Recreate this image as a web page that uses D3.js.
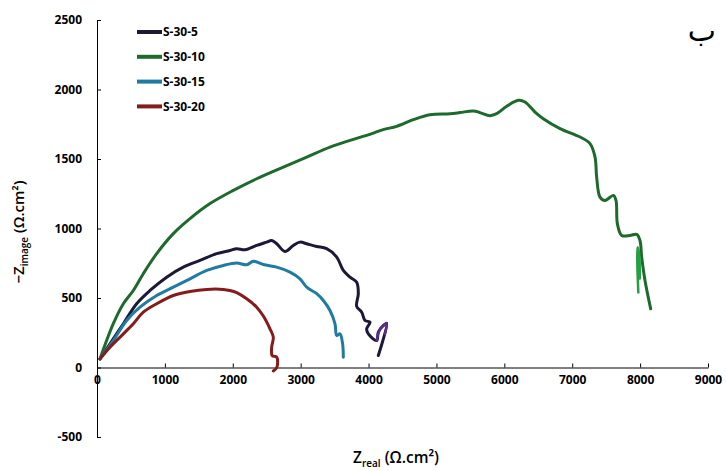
<!DOCTYPE html>
<html>
<head>
<meta charset="utf-8">
<script src="https://cdn.jsdelivr.net/npm/d3@7"></script>
<style>
  body { margin: 0; background: #fff; }
  svg { display: block; }
  .tick text { font-family: "Open Sans", sans-serif; font-weight: 700; font-size: 12px; fill: #000; }
</style>
</head>
<body>
<main></main>
<script>
// series names and colours
const seriesNames = ["S-30-5", "S-30-10", "S-30-15", "S-30-20"];
const seriesColors = ["#1b1838", "#1d6a2c", "#1f7ba0", "#861b1b"];

// [Zreal, -Zimage]
const s30_5 = [[44,62],[191,170],[388,315],[584,459],[781,554],[1026,650],[1271,722],[1517,770],[1763,819],[1959,842],[2058,855],[2180,847],[2352,878],[2499,902],[2573,914],[2647,890],[2769,835],[2892,878],[2990,902],[3089,890],[3236,871],[3383,855],[3531,794],[3628,698],[3727,650],[3825,614],[3849,531],[3825,440],[3899,398],[3948,338],[4021,326],[3972,278],[3997,242],[4120,194],[4144,254],[4217,302],[4267,319],[4144,86]];
const s30_5tail = [[4120,194],[4150,256],[4190,290],[4225,302],[4267,319],[4240,240]];
const s30_10 = [[44,62],[240,315],[388,459],[535,554],[682,675],[879,819],[1124,963],[1370,1071],[1665,1179],[2008,1274],[2352,1358],[2745,1442],[3089,1514],[3432,1586],[3727,1634],[3972,1670],[4217,1711],[4414,1735],[4659,1783],[4905,1819],[5200,1826],[5347,1834],[5543,1846],[5641,1834],[5789,1812],[5887,1826],[6035,1879],[6206,1922],[6304,1910],[6452,1838],[6574,1790],[6820,1719],[7115,1658],[7262,1611],[7336,1514],[7360,1370],[7409,1226],[7483,1202],[7606,1238],[7645,1202],[7665,1035],[7729,950],[7851,950],[7950,958],[7998,914],[8023,794],[8072,626],[8156,422]];
const s30_10tail = [[7974,540],[7960,730],[7962,866],[7985,820],[7995,640]];
const s30_15 = [[44,62],[240,194],[437,338],[633,434],[879,518],[1124,578],[1370,638],[1616,698],[1861,734],[2058,751],[2205,739],[2303,765],[2450,741],[2647,722],[2843,686],[2990,638],[3089,578],[3236,531],[3334,482],[3432,410],[3506,314],[3531,230],[3579,242],[3618,170],[3628,74]];
const s30_20 = [[44,62],[191,146],[388,242],[535,315],[682,398],[879,459],[1124,518],[1370,547],[1616,562],[1861,562],[1959,554],[2058,538],[2205,494],[2352,434],[2450,370],[2548,278],[2597,218],[2573,146],[2580,86],[2647,74],[2650,2],[2597,-25]];

const xTicks = [0,1000,2000,3000,4000,5000,6000,7000,8000,9000];
const yTicks = [-500,0,500,1000,1500,2000,2500];

const width = 726, height = 470;
const svg = d3.select("main").append("svg")
    .attr("width", width)
    .attr("height", height);

const x = d3.scaleLinear().domain([0, 9000]).range([97, 708]);
const y = d3.scaleLinear().domain([-500, 2500]).range([437, 20]);

// plain hyphen for negatives, like the original
const fmt = d => String(d);

// y axis, ticks point inwards
svg.append("g")
    .attr("transform", `translate(${x(0)},0)`)
    .call(d3.axisLeft(y).tickValues(yTicks).tickSizeInner(-4).tickSizeOuter(0).tickPadding(15)
      .tickFormat(fmt))
    .call(g => g.select(".domain").attr("stroke", "#000"));

// x axis sits on zero line, ticks point up
svg.append("g")
    .attr("transform", `translate(0,${y(0)})`)
    .call(d3.axisBottom(x).tickValues(xTicks).tickSizeInner(-4).tickSizeOuter(0).tickPadding(8)
      .tickFormat(fmt))
    .call(g => g.select(".domain").attr("stroke", "#000"));

const line = d3.line().x(d => x(d[0])).y(d => y(d[1])).curve(d3.curveCatmullRom.alpha(0.5));

const allSeries = [s30_5, s30_10, s30_15, s30_20];
svg.append("g")
  .selectAll("path")
  .data(allSeries)
  .join("path")
    .attr("d", line)
    .attr("fill", "none")
    .attr("stroke", (d, i) => seriesColors[i])
    .attr("stroke-width", 3)
    .attr("stroke-linejoin", "round")
    .attr("stroke-linecap", "round");

// small coloured tails at the end of two curves
svg.append("path").attr("d", line(s30_5tail))
    .attr("fill", "none").attr("stroke", "#5a2d8f").attr("stroke-width", 2.5).attr("stroke-linecap", "round");
svg.append("path").attr("d", line(s30_10tail))
    .attr("fill", "none").attr("stroke", "#22a043").attr("stroke-width", 2.5).attr("stroke-linecap", "round");

// legend
const legend = svg.append("g").selectAll("g")
    .data(seriesNames)
    .join("g")
      .attr("transform", (d, i) => `translate(137,${32 + i * 24.8})`);
legend.append("line")
    .attr("x1", 0).attr("x2", 25)
    .attr("stroke", (d, i) => seriesColors[i])
    .attr("stroke-width", 4);
legend.append("text")
    .attr("x", 26).attr("dy", "0.35em")
    .attr("font-family", "Open Sans, sans-serif")
    .attr("font-weight", 700)
    .attr("font-size", 12)
    .attr("fill", "#000")
    .text(d => d);

// y axis title
const yt = svg.append("text")
    .attr("transform", "translate(24,232) rotate(-90)")
    .attr("text-anchor", "middle")
    .attr("font-family", "Open Sans, sans-serif")
    .attr("font-weight", 600)
    .attr("font-size", 15)
    .attr("fill", "#000");
yt.append("tspan").text("\u2212Z");
yt.append("tspan").attr("font-size", 10).attr("dy", 4).text("image");
yt.append("tspan").attr("dy", -4).text(" (\u03A9.cm\u00B2)");

// x axis title
const xt = svg.append("text")
    .attr("x", 396).attr("y", 463)
    .attr("text-anchor", "middle")
    .attr("font-family", "Open Sans, sans-serif")
    .attr("font-weight", 600)
    .attr("font-size", 15.5)
    .attr("fill", "#000");
xt.append("tspan").text("Z");
xt.append("tspan").attr("font-size", 10).attr("dy", 4).text("real");
xt.append("tspan").attr("dy", -4).text(" (\u03A9.cm\u00B2)");

// panel letter
svg.append("text")
    .attr("x", 716).attr("y", 41)
    .attr("text-anchor", "end")
    .attr("font-family", "DejaVu Sans, sans-serif")
    .attr("font-size", 30)
    .attr("fill", "#000")
    .text("\u0628");
</script>
</body>
</html>
